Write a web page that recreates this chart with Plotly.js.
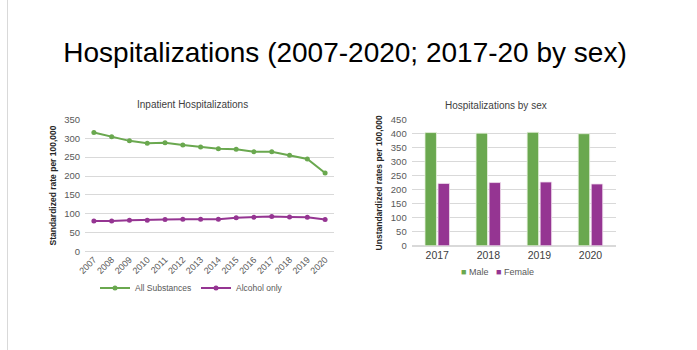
<!DOCTYPE html>
<html>
<head>
<meta charset="utf-8">
<script src="https://cdn.plot.ly/plotly-3.0.1.min.js"></script>
<style>html,body{margin:0;padding:0;background:#fff;}#chart{width:697px;height:350px;}</style>
</head>
<body>
<div id="chart"></div>
<script>
// ---- data ----
const years = ['2007','2008','2009','2010','2011','2012','2013','2014','2015','2016','2017','2018','2019','2020'];
const allSubstances = [315, 304, 293, 287, 288, 282, 277, 272, 271, 264, 264, 255, 245, 208];
const alcoholOnly = [81, 81, 83, 83, 85, 86, 86, 86, 90, 91, 93, 92, 91, 85];
const sexYears = ['2017','2018','2019','2020'];
const maleRates = [405, 403, 406, 401];
const femaleRates = [223, 226, 228, 221];
const lineNames = ['All Substances', 'Alcohol only'];
const barNames = ['Male', 'Female'];

const W = 697, H = 350;
const px = v => v / W;
const py = v => 1 - v / H;
const green = '#6AA84F';
const purple = '#953592';
const tickCol = '#595959';
const gridCol = '#D9D9D9';
const baseFont = 'Liberation Sans, Arial, sans-serif';

const traces = [
  {x: years, y: allSubstances, name: lineNames[0], type: 'scatter', mode: 'lines+markers',
   line: {color: green, width: 2}, marker: {color: green, size: 5}, xaxis: 'x', yaxis: 'y', legend: 'legend'},
  {x: years, y: alcoholOnly, name: lineNames[1], type: 'scatter', mode: 'lines+markers',
   line: {color: purple, width: 2}, marker: {color: purple, size: 5}, xaxis: 'x', yaxis: 'y', legend: 'legend'},
  {x: sexYears, y: maleRates, name: barNames[0], type: 'bar', marker: {color: green, line: {color: '#E8F2E0', width: 0.8}},
   xaxis: 'x2', yaxis: 'y2', showlegend: false},
  {x: sexYears, y: femaleRates, name: barNames[1], type: 'bar', marker: {color: purple, line: {color: '#F0E0EE', width: 0.8}},
   xaxis: 'x2', yaxis: 'y2', showlegend: false}
];

const barLegendText =
  '<span style="color:' + green + '">■</span> ' + barNames[0] +
  '   <span style="color:' + purple + '">■</span> ' + barNames[1];

const layout = {
  width: W, height: H,
  margin: {l: 0, r: 0, t: 0, b: 0},
  paper_bgcolor: '#fff', plot_bgcolor: '#fff',
  font: {family: baseFont, color: tickCol, size: 9},
  showlegend: true,
  barmode: 'group', bargap: 0.49, bargroupgap: 0.12,
  title: {text: 'Hospitalizations (2007-2020; 2017-20 by sex)', x: px(345), xanchor: 'center', y: py(52), yanchor: 'middle',
          font: {family: baseFont, size: 28, color: '#000'}},
  xaxis: {domain: [px(85), px(334)], anchor: 'y', type: 'category', range: [-0.5, 13.5],
          tickangle: -45, tickfont: {size: 9, color: tickCol}, showgrid: false, showline: false, ticks: '', ticklen: 0},
  yaxis: {domain: [py(251.7), py(119.3)], anchor: 'x', range: [0, 350], dtick: 50,
          gridcolor: gridCol, gridwidth: 1, zeroline: true, zerolinecolor: gridCol, zerolinewidth: 1,
          showline: false, tickfont: {size: 9.5, color: tickCol}, ticklabelstandoff: 4,
          title: {text: 'Standardized rate per 100,000', font: {size: 8.5, color: '#262626', family: baseFont, weight: 'bold'}, standoff: 6}},
  xaxis2: {domain: [px(411.7), px(616)], anchor: 'y2', type: 'category',
           tickfont: {size: 10.5, color: '#404040'}, showgrid: false, showline: true, linecolor: gridCol, ticks: ''},
  yaxis2: {domain: [py(245.7), py(120)], anchor: 'x2', range: [0, 450], dtick: 50,
           gridcolor: gridCol, gridwidth: 1, zeroline: true, zerolinecolor: gridCol, zerolinewidth: 1,
           showline: false, tickfont: {size: 9.5, color: tickCol}, ticklabelstandoff: 4,
           title: {text: 'Unstandardized rates per 100,000', font: {size: 8.5, color: '#262626', family: baseFont, weight: 'bold'}, standoff: 6}},
  legend: {orientation: 'h', x: px(95), xanchor: 'left', y: py(288), yanchor: 'middle',
           font: {size: 8.5, color: tickCol}, itemwidth: 30, entrywidth: 56, bgcolor: 'rgba(0,0,0,0)'},
  annotations: [
    {text: 'Inpatient Hospitalizations', xref: 'paper', yref: 'paper', x: px(192), y: py(104), xanchor: 'center', yanchor: 'middle',
     showarrow: false, font: {size: 10, color: '#404040'}},
    {text: 'Hospitalizations by sex', xref: 'paper', yref: 'paper', x: px(496), y: py(105), xanchor: 'center', yanchor: 'middle',
     showarrow: false, font: {size: 10, color: '#404040'}},
    {text: barLegendText, xref: 'paper', yref: 'paper', x: px(497), y: py(272), xanchor: 'center', yanchor: 'middle',
     showarrow: false, font: {size: 9, color: tickCol}}
  ],
  shapes: [
    {type: 'line', xref: 'paper', yref: 'paper', x0: px(7.5), x1: px(7.5), y0: 0, y1: 1, line: {color: '#D9D9D9', width: 1}}
  ]
};

Plotly.newPlot('chart', traces, layout, {staticPlot: true, displayModeBar: false});
</script>
</body>
</html>
